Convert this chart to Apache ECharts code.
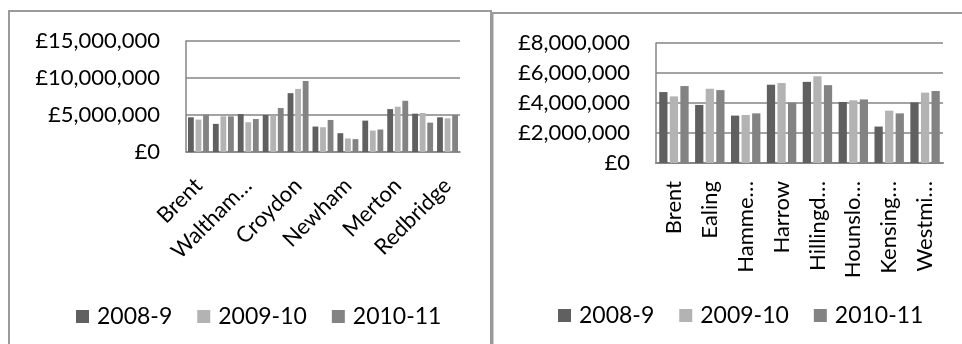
<!DOCTYPE html>
<html>
<head>
<meta charset="utf-8">
<script src="https://cdn.jsdelivr.net/npm/echarts@6/dist/echarts.min.js"></script>
<style>
  html, body { margin: 0; padding: 0; background: #ffffff; }
  #chart { width: 962px; height: 344px; }
</style>
</head>
<body>
<div id="chart"></div>
<script>
// Funding years shown in both panels
const years = ['2008-9', '2009-10', '2010-11'];

// Panel 1: boroughs (every other name is printed on the axis)
const boroughsA = ['Brent', 'Haringey', 'Waltham Forest', 'Lambeth', 'Croydon', 'Hackney',
                   'Newham', 'Lewisham', 'Merton', 'Southwark', 'Redbridge'];
const tickLabelsA = ['Brent', 'Haringey', 'Waltham…', 'Lambeth', 'Croydon', 'Hackney',
                     'Newham', 'Lewisham', 'Merton', 'Southwark', 'Redbridge'];
const a2008 = [4690000, 3800000, 5130000, 5000000, 7950000, 3440000, 2540000, 4240000, 5800000, 5180000, 4690000];
const a2009 = [4380000, 4820000, 4020000, 4900000, 8530000, 3350000, 1830000, 2900000, 6120000, 5270000, 4550000];
const a2010 = [5040000, 4820000, 4460000, 5940000, 9600000, 4330000, 1740000, 3040000, 6920000, 3970000, 5000000];

// Panel 2: west London boroughs
const boroughsB = ['Brent', 'Ealing', 'Hammersmith & Fulham', 'Harrow', 'Hillingdon',
                   'Hounslow', 'Kensington & Chelsea', 'Westminster'];
const tickLabelsB = ['Brent', 'Ealing', 'Hamme…', 'Harrow', 'Hillingd…',
                     'Hounslo…', 'Kensing…', 'Westmi…'];
const b2008 = [4730000, 3870000, 3160000, 5220000, 5410000, 4070000, 2430000, 4040000];
const b2009 = [4440000, 4950000, 3200000, 5330000, 5790000, 4180000, 3490000, 4690000];
const b2010 = [5130000, 4860000, 3310000, 4020000, 5190000, 4240000, 3310000, 4800000];

const colors = ['#606060', '#b3b3b3', '#838383'];
const FONT = 'Lato';
const FS = 22;
const textCol = '#000000';

function pounds(v) {
  return '£' + String(v).replace(/\B(?=(\d{3})+(?!\d))/g, ',');
}

const chart = echarts.init(document.getElementById('chart'), null, { renderer: 'canvas' });

function barSeries(name, data, axisIdx, color, gap, catGap) {
  return {
    type: 'bar', name: name, data: data,
    xAxisIndex: axisIdx, yAxisIndex: axisIdx,
    barGap: gap, barCategoryGap: catGap,
    itemStyle: { color: color },
    emphasis: { disabled: true },
    animation: false
  };
}

const yCommon = {
  type: 'value',
  axisLine: { show: true, lineStyle: { color: '#858585', width: 1.5 } },
  axisTick: { show: false },
  splitLine: { lineStyle: { color: '#858585', width: 1.5 } },
  axisLabel: { fontFamily: FONT, fontSize: FS, color: textCol, margin: 26, formatter: pounds }
};

const legendCommon = {
  data: years, itemWidth: 13, itemHeight: 13, itemGap: 25, icon: 'rect', selectedMode: false,
  textStyle: { fontFamily: FONT, fontSize: 23, color: textCol, padding: [0, 0, 0, 3] }
};

const option = {
  animation: false,
  backgroundColor: '#ffffff',
  textStyle: { fontFamily: FONT },
  graphic: [
    { type: 'rect', shape: { x: 9, y: 11, width: 482, height: 400 },
      style: { fill: 'none', stroke: '#9a9a9a', lineWidth: 2 }, z: 100 },
    { type: 'rect', shape: { x: 492.5, y: 13, width: 500, height: 400 },
      style: { fill: 'none', stroke: '#9a9a9a', lineWidth: 2 }, z: 100 }
  ],
  legend: [
    Object.assign({}, legendCommon, { left: 71, top: 300 }),
    Object.assign({}, legendCommon, { left: 553, top: 299 })
  ],
  grid: [
    { left: 186, top: 41, width: 274, height: 111 },
    { left: 656, top: 43, width: 287, height: 120 }
  ],
  xAxis: [
    { type: 'category', gridIndex: 0, data: boroughsA,
      axisLine: { lineStyle: { color: '#858585', width: 1.5 } },
      axisTick: { show: false },
      axisLabel: { interval: 1, rotate: 45, fontFamily: FONT, fontSize: FS, color: textCol,
                   margin: 30, formatter: (v, i) => tickLabelsA[i] } },
    { type: 'category', gridIndex: 1, data: boroughsB,
      axisLine: { lineStyle: { color: '#858585', width: 2 } },
      axisTick: { show: false },
      axisLabel: { interval: 0, rotate: 90, fontFamily: FONT, fontSize: FS, color: textCol,
                   margin: 18, formatter: (v, i) => tickLabelsB[i] } }
  ],
  yAxis: [
    Object.assign({}, yCommon, { gridIndex: 0, min: 0, max: 15000000, interval: 5000000 }),
    Object.assign({}, yCommon, { gridIndex: 1, min: 0, max: 8000000, interval: 2000000 })
  ],
  series: [
    barSeries(years[0], a2008, 0, colors[0], '30%', '16%'),
    barSeries(years[1], a2009, 0, colors[1], '30%', '16%'),
    barSeries(years[2], a2010, 0, colors[2], '30%', '16%'),
    barSeries(years[0], b2008, 1, colors[0], '28%', '18%'),
    barSeries(years[1], b2009, 1, colors[1], '28%', '18%'),
    barSeries(years[2], b2010, 1, colors[2], '28%', '18%')
  ]
};

chart.setOption(option);
</script>
</body>
</html>
